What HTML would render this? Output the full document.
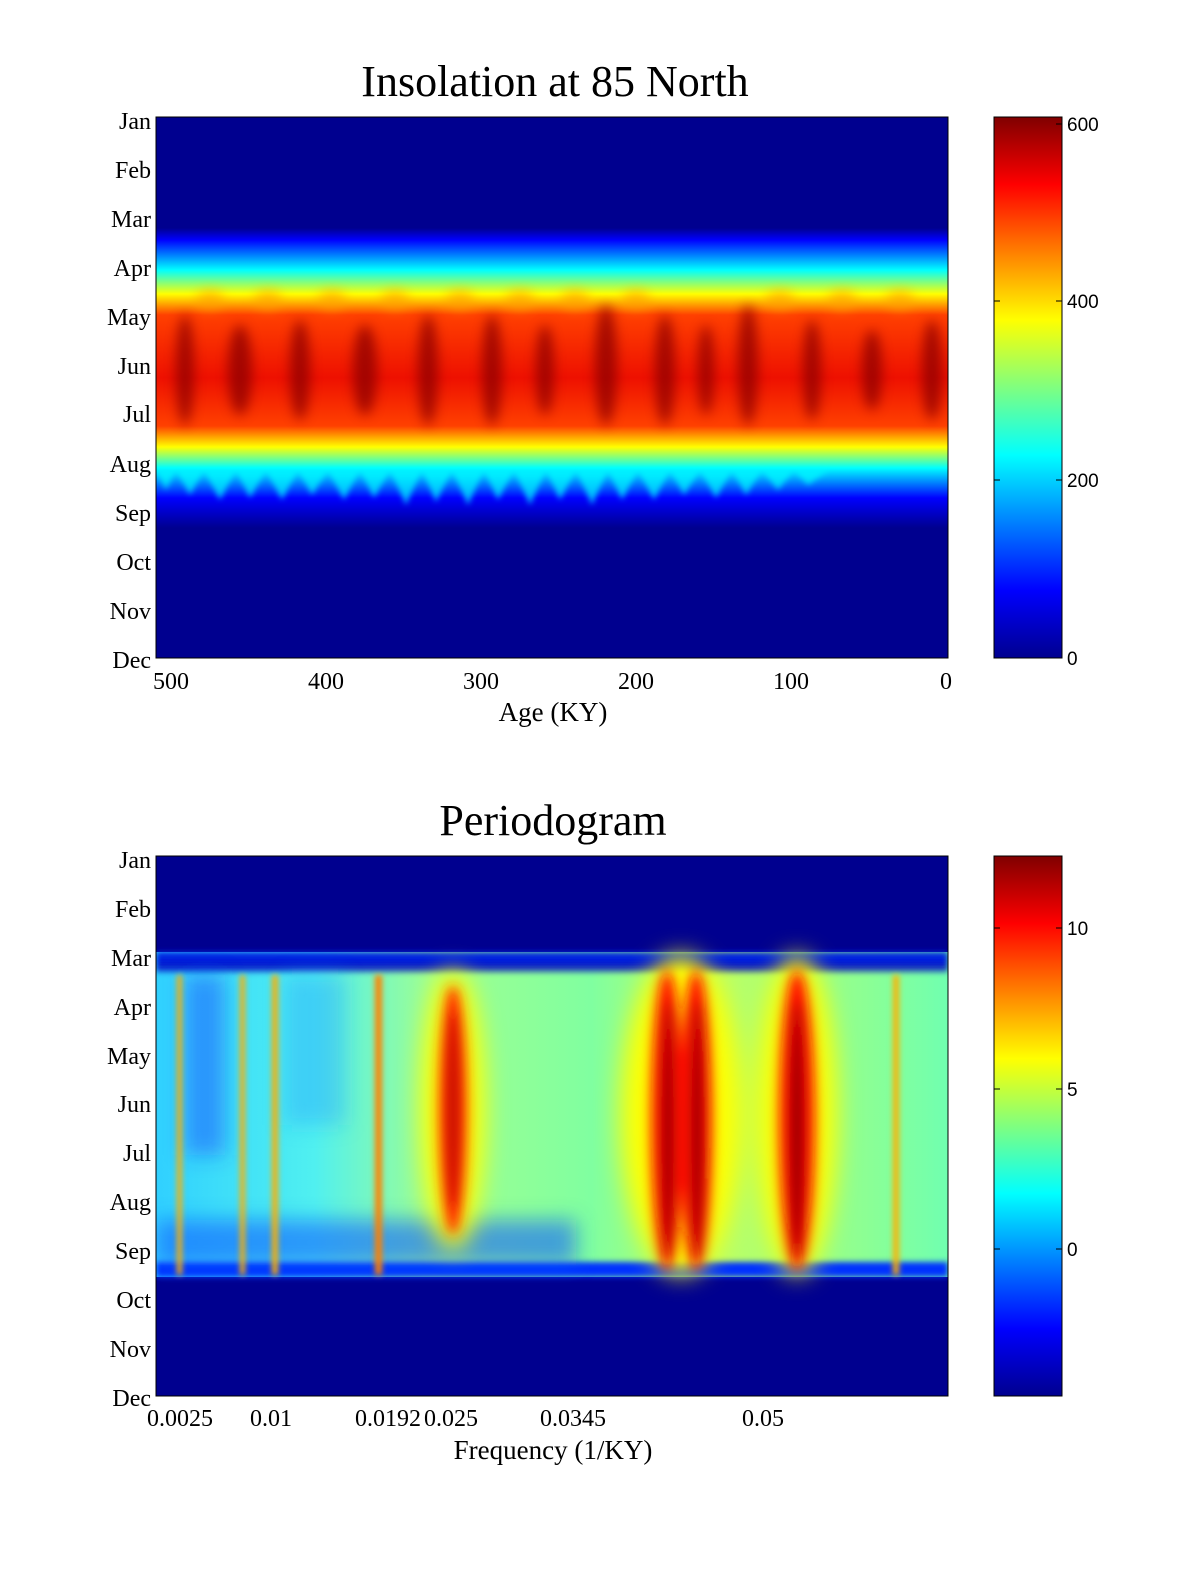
<!DOCTYPE html>
<html><head><meta charset="utf-8"><style>
html,body{margin:0;padding:0;background:#fff;overflow:hidden;width:1200px;height:1575px;}
svg{display:block;}
text{font-family:"Liberation Serif",serif;fill:#000;}
.cb{font-family:"Liberation Sans",sans-serif;font-size:19px;}
</style></head><body>
<svg width="1200" height="1575" viewBox="0 0 1200 1575" xmlns="http://www.w3.org/2000/svg">
<defs>
<linearGradient id="jet" x1="0" y1="1" x2="0" y2="0">
<stop offset="0" stop-color="#00008f"/><stop offset="0.125" stop-color="#0000ff"/>
<stop offset="0.375" stop-color="#00ffff"/><stop offset="0.625" stop-color="#ffff00"/>
<stop offset="0.875" stop-color="#ff0000"/><stop offset="1" stop-color="#800000"/>
</linearGradient>
<linearGradient id="band1" x1="0" y1="0" x2="0" y2="1">
<stop offset="0" stop-color="#00008f"/>
<stop offset="0.04" stop-color="#0000ff"/>
<stop offset="0.14" stop-color="#00ffff"/>
<stop offset="0.22" stop-color="#ffff00"/>
<stop offset="0.29" stop-color="#ff4000"/>
<stop offset="0.5" stop-color="#ee1000"/>
<stop offset="0.66" stop-color="#ff4000"/>
<stop offset="0.73" stop-color="#ffff00"/>
<stop offset="0.8" stop-color="#00ffff"/>
<stop offset="0.9" stop-color="#0000ff"/>
<stop offset="1" stop-color="#00008f"/>
</linearGradient>
<linearGradient id="band2" x1="0" y1="0" x2="1" y2="0">
<stop offset="0" stop-color="#30d0ff"/>
<stop offset="0.2" stop-color="#50f0f0"/>
<stop offset="0.35" stop-color="#a0ff90"/>
<stop offset="0.55" stop-color="#80ffa0"/>
<stop offset="0.7" stop-color="#c0ff60"/>
<stop offset="1" stop-color="#70ffb0"/>
</linearGradient>
<filter id="b6" x="-50%" y="-50%" width="200%" height="200%"><feGaussianBlur stdDeviation="6"/></filter>
<filter id="b3" x="-50%" y="-50%" width="200%" height="200%"><feGaussianBlur stdDeviation="3"/></filter>
<filter id="b10" x="-50%" y="-50%" width="200%" height="200%"><feGaussianBlur stdDeviation="10"/></filter>
<filter id="b12" x="-50%" y="-50%" width="200%" height="200%"><feGaussianBlur stdDeviation="12"/></filter>
<clipPath id="c1"><rect x="156" y="117" width="792" height="541"/></clipPath>
<clipPath id="c2"><rect x="156" y="856" width="792" height="540"/></clipPath>
</defs>

<!-- TOP -->
<text x="555" y="96" font-size="44" text-anchor="middle">Insolation at 85 North</text>
<g clip-path="url(#c1)">
<rect x="156" y="117" width="792" height="541" fill="#00008f"/>
<rect x="156" y="228" width="792" height="300" fill="url(#band1)"/>
<g filter="url(#b6)" fill="#ffa000" opacity="0.6">
<ellipse cx="210" cy="300" rx="14" ry="10"/><ellipse cx="268" cy="300" rx="14" ry="10"/>
<ellipse cx="332" cy="300" rx="14" ry="10"/><ellipse cx="395" cy="300" rx="14" ry="10"/>
<ellipse cx="460" cy="300" rx="14" ry="10"/><ellipse cx="520" cy="300" rx="14" ry="10"/>
<ellipse cx="575" cy="300" rx="14" ry="10"/><ellipse cx="636" cy="300" rx="14" ry="10"/>
<ellipse cx="780" cy="300" rx="14" ry="10"/><ellipse cx="842" cy="300" rx="14" ry="10"/>
<ellipse cx="900" cy="300" rx="14" ry="10"/>
</g>
<g filter="url(#b6)" fill="#900000" opacity="0.8">
<ellipse cx="185" cy="370" rx="9" ry="55"/>
<ellipse cx="240" cy="370" rx="12" ry="45"/>
<ellipse cx="300" cy="370" rx="10" ry="50"/>
<ellipse cx="365" cy="370" rx="12" ry="45"/>
<ellipse cx="428" cy="370" rx="10" ry="55"/>
<ellipse cx="492" cy="370" rx="10" ry="55"/>
<ellipse cx="545" cy="370" rx="9" ry="45"/>
<ellipse cx="606" cy="365" rx="11" ry="60"/>
<ellipse cx="665" cy="370" rx="10" ry="55"/>
<ellipse cx="706" cy="370" rx="8" ry="45"/>
<ellipse cx="748" cy="365" rx="10" ry="60"/>
<ellipse cx="812" cy="370" rx="9" ry="50"/>
<ellipse cx="872" cy="370" rx="10" ry="40"/>
<ellipse cx="932" cy="370" rx="10" ry="50"/>
</g>
<g filter="url(#b3)" fill="#00ffff" opacity="0.7">
<path d="M156 470 l10 20 l10 -20 l14 25 l14 -25 l16 30 l16 -30 l14 28 l16 -28 l16 30 l16 -30 l14 25 l16 -25 l16 30 l16 -30 l14 28 l16 -28 l16 35 l16 -35 l14 32 l16 -32 l16 35 l16 -35 l14 30 l16 -30 l16 35 l16 -35 l14 30 l16 -30 l16 35 l16 -35 l14 30 l16 -30 l16 30 l16 -30 l14 25 l16 -25 l16 28 l16 -28 l14 25 l16 -25 l16 20 l16 -20 l14 15 l20 -15 Z"/>
</g>
</g>
<rect x="156" y="117" width="792" height="541" fill="none" stroke="#000" stroke-width="1"/>
<g font-size="24" text-anchor="end">
<text x="151" y="129">Jan</text><text x="151" y="178">Feb</text><text x="151" y="227">Mar</text>
<text x="151" y="276">Apr</text><text x="151" y="325">May</text><text x="151" y="374">Jun</text>
<text x="151" y="422">Jul</text><text x="151" y="472">Aug</text><text x="151" y="521">Sep</text>
<text x="151" y="570">Oct</text><text x="151" y="619">Nov</text><text x="151" y="668">Dec</text>
</g>
<g font-size="24" text-anchor="middle">
<text x="171" y="689">500</text><text x="326" y="689">400</text><text x="481" y="689">300</text>
<text x="636" y="689">200</text><text x="791" y="689">100</text><text x="946" y="689">0</text>
<text x="553" y="721" font-size="27">Age (KY)</text>
</g>
<rect x="994" y="117" width="68" height="541" fill="url(#jet)" stroke="#000"/>
<g stroke="#000"><line x1="1056" y1="124" x2="1062" y2="124"/><line x1="1056" y1="301" x2="1062" y2="301"/><line x1="1056" y1="480" x2="1062" y2="480"/><line x1="994" y1="301" x2="1000" y2="301"/><line x1="994" y1="480" x2="1000" y2="480"/></g>
<text class="cb" x="1067" y="131">600</text><text class="cb" x="1067" y="308">400</text>
<text class="cb" x="1067" y="487">200</text><text class="cb" x="1067" y="665">0</text>

<!-- BOTTOM -->
<text x="553" y="835" font-size="44" text-anchor="middle">Periodogram</text>
<g clip-path="url(#c2)">
<rect x="156" y="856" width="792" height="540" fill="#00008f"/>
<rect x="156" y="952" width="792" height="325" fill="url(#band2)"/>
<g filter="url(#b3)">
<rect x="156" y="952" width="792" height="14" fill="#0020e0"/>
<rect x="156" y="962" width="792" height="10" fill="#0000c0" opacity="0.7"/>
<rect x="156" y="1262" width="792" height="15" fill="#0030ff"/>
</g>
<g filter="url(#b10)">
<rect x="156" y="1220" width="420" height="45" fill="#1060ff" opacity="0.6"/>
<rect x="185" y="975" width="40" height="180" fill="#1040ff" opacity="0.45"/>
<rect x="285" y="975" width="60" height="150" fill="#20a0ff" opacity="0.4"/>
</g>
<g filter="url(#b3)" fill="#ffb000">
<rect x="177" y="975" width="5" height="300"/>
<rect x="240" y="975" width="5" height="300"/>
<rect x="272" y="975" width="6" height="300"/>
<rect x="375" y="975" width="7" height="300" fill="#ff8000"/>
<rect x="893" y="975" width="6" height="300"/>
</g>
<g filter="url(#b12)">
<ellipse cx="453" cy="1110" rx="32" ry="140" fill="#ffff00"/>
<ellipse cx="681" cy="1115" rx="60" ry="160" fill="#ffff00"/>
<ellipse cx="797" cy="1115" rx="40" ry="160" fill="#ffff00"/>
</g>
<g filter="url(#b6)">
<ellipse cx="453" cy="1110" rx="14" ry="125" fill="#ff2000"/>
<ellipse cx="667" cy="1120" rx="16" ry="150" fill="#ff1000"/>
<ellipse cx="696" cy="1120" rx="16" ry="150" fill="#ff1000"/>
<ellipse cx="797" cy="1120" rx="18" ry="150" fill="#ff1000"/>
<ellipse cx="668" cy="1130" rx="6" ry="130" fill="#900000"/>
<ellipse cx="697" cy="1130" rx="6" ry="130" fill="#900000"/>
<ellipse cx="797" cy="1130" rx="7" ry="130" fill="#900000"/>
<ellipse cx="453" cy="1110" rx="5" ry="100" fill="#b00000"/>
</g>
</g>
<rect x="156" y="856" width="792" height="540" fill="none" stroke="#000"/>
<g font-size="24" text-anchor="end">
<text x="151" y="868">Jan</text><text x="151" y="917">Feb</text><text x="151" y="966">Mar</text>
<text x="151" y="1015">Apr</text><text x="151" y="1064">May</text><text x="151" y="1112">Jun</text>
<text x="151" y="1161">Jul</text><text x="151" y="1210">Aug</text><text x="151" y="1259">Sep</text>
<text x="151" y="1308">Oct</text><text x="151" y="1357">Nov</text><text x="151" y="1406">Dec</text>
</g>
<g font-size="24" text-anchor="middle">
<text x="180" y="1426">0.0025</text><text x="271" y="1426">0.01</text><text x="388" y="1426">0.0192</text>
<text x="451" y="1426">0.025</text><text x="573" y="1426">0.0345</text><text x="763" y="1426">0.05</text>
<text x="553" y="1459" font-size="27">Frequency (1/KY)</text>
</g>
<rect x="994" y="856" width="68" height="540" fill="url(#jet)" stroke="#000"/>
<g stroke="#000"><line x1="1056" y1="928" x2="1062" y2="928"/><line x1="1056" y1="1089" x2="1062" y2="1089"/><line x1="1056" y1="1249" x2="1062" y2="1249"/><line x1="994" y1="928" x2="1000" y2="928"/><line x1="994" y1="1089" x2="1000" y2="1089"/><line x1="994" y1="1249" x2="1000" y2="1249"/></g>
<text class="cb" x="1067" y="935">10</text><text class="cb" x="1067" y="1096">5</text><text class="cb" x="1067" y="1256">0</text>
</svg>
</body></html>
